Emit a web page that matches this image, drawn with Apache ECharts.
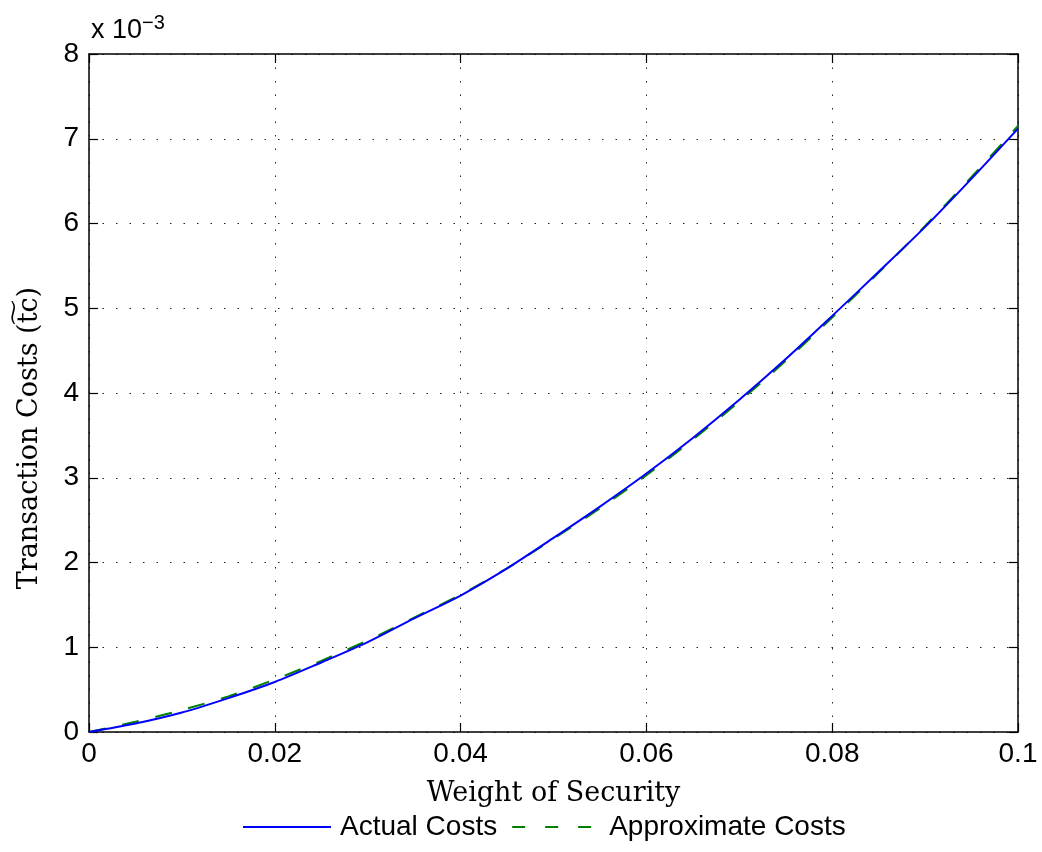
<!DOCTYPE html>
<html>
<head>
<meta charset="utf-8">
<script src="https://cdn.jsdelivr.net/npm/echarts@6/dist/echarts.min.js"></script>
<style>
  html, body { margin: 0; padding: 0; background: #fff; }
  #chart { width: 1042px; height: 852px; }
</style>
</head>
<body>
<div id="chart"></div>
<script>
// weight of security (x)
var weights = [0, 0.005, 0.01, 0.015, 0.02, 0.025, 0.03, 0.035, 0.04, 0.045, 0.05,
               0.055, 0.06, 0.065, 0.07, 0.075, 0.08, 0.085, 0.09, 0.095, 0.1];
// transaction costs, units of 1e-3
var actualCosts = [0, 0.10, 0.23, 0.40, 0.59, 0.82, 1.06, 1.34, 1.61, 1.93, 2.29,
                   2.66, 3.05, 3.47, 3.92, 4.40, 4.91, 5.43, 5.96, 6.53, 7.12];
var approxCosts = [0, 0.12, 0.26, 0.42, 0.62, 0.84, 1.08, 1.35, 1.62, 1.93, 2.28,
                   2.64, 3.03, 3.45, 3.90, 4.38, 4.89, 5.42, 5.97, 6.55, 7.15];
var xTicks = [0, 0.02, 0.04, 0.06, 0.08, 0.1];
var yTicks = [0, 1, 2, 3, 4, 5, 6, 7, 8];

function pairs(xs, ys) {
  var out = [];
  for (var i = 0; i < xs.length; i++) {
    out.push([xs[i], ys[i]]);
  }
  return out;
}

var chart = echarts.init(document.getElementById('chart'));

var sans = 'Liberation Sans';
var serif = 'DejaVu Serif';
var gridLine = { show: true, lineStyle: { color: '#222', type: [1.5, 12], width: 1 } };
var frame = { show: true, onZero: false, lineStyle: { color: '#000', width: 1.5 } };
var inTick = { show: true, inside: true, length: 9, lineStyle: { color: '#000', width: 1.2 } };

var option = {
  animation: false,
  backgroundColor: '#fff',
  title: {
    text: 'x 10{sup|\u22123}',
    left: 86,
    top: 8,
    textStyle: {
      fontFamily: sans, fontSize: 27, fontWeight: 'normal', color: '#000',
      rich: { sup: { fontFamily: sans, fontSize: 20, color: '#000', verticalAlign: 'top', padding: [0, 0, 16, 0] } }
    }
  },
  grid: { left: 89, top: 54, right: 24, bottom: 120 },
  legend: {
    bottom: 6,
    left: 237,
    itemWidth: 88,
    itemHeight: 14,
    itemGap: 14,
    itemStyle: { opacity: 0 },
    textStyle: { fontFamily: sans, fontSize: 28, color: '#000', padding: [0, 0, 0, 4] },
    data: [
      { name: 'Actual Costs' },
      { name: 'Approximate Costs', lineStyle: { type: [13, 20] } }
    ]
  },
  xAxis: [{
    type: 'value',
    min: 0, max: 0.1, interval: 0.02,
    position: 'bottom',
    name: 'Weight of Security',
    nameLocation: 'middle',
    nameGap: 48,
    nameTextStyle: { fontFamily: serif, fontSize: 27, color: '#000' },
    axisLine: frame,
    axisTick: inTick,
    splitLine: gridLine,
    axisLabel: {
      fontFamily: sans, fontSize: 28, color: '#000', margin: 8,
      formatter: function (v) { return xTicks.indexOf(+v.toFixed(2)) >= 0 ? String(+v.toFixed(2)) : ''; }
    }
  }, {
    type: 'value',
    min: 0, max: 0.1, interval: 0.02,
    position: 'top',
    axisLine: frame,
    axisTick: inTick,
    axisLabel: { show: false },
    splitLine: { show: false }
  }],
  yAxis: [{
    type: 'value',
    min: 0, max: 8, interval: 1,
    position: 'left',
    name: 'Transaction Costs (t\u0360c)',
    nameLocation: 'middle',
    nameGap: 46,
    nameTextStyle: { fontFamily: serif, fontSize: 27, color: '#000', padding: [0, 90, 0, 0] },
    axisLine: frame,
    axisTick: inTick,
    splitLine: gridLine,
    axisLabel: {
      fontFamily: sans, fontSize: 28, color: '#000', margin: 10,
      formatter: function (v) { return yTicks.indexOf(v) >= 0 ? String(v) : ''; }
    }
  }, {
    type: 'value',
    min: 0, max: 8, interval: 1,
    position: 'right',
    axisLine: frame,
    axisTick: inTick,
    axisLabel: { show: false },
    splitLine: { show: false }
  }],
  series: [{
    name: 'Actual Costs',
    type: 'line',
    smooth: 0.3,
    showSymbol: false,
    symbol: 'none',
    z: 4,
    data: pairs(weights, actualCosts),
    lineStyle: { color: '#0000ff', width: 2 },
    itemStyle: { color: '#0000ff' }
  }, {
    name: 'Approximate Costs',
    type: 'line',
    smooth: 0.3,
    showSymbol: false,
    symbol: 'none',
    z: 3,
    data: pairs(weights, approxCosts),
    lineStyle: { color: '#008000', width: 2, type: [17, 17] },
    itemStyle: { color: '#008000' }
  }]
};

chart.setOption(option);
</script>
</body>
</html>
